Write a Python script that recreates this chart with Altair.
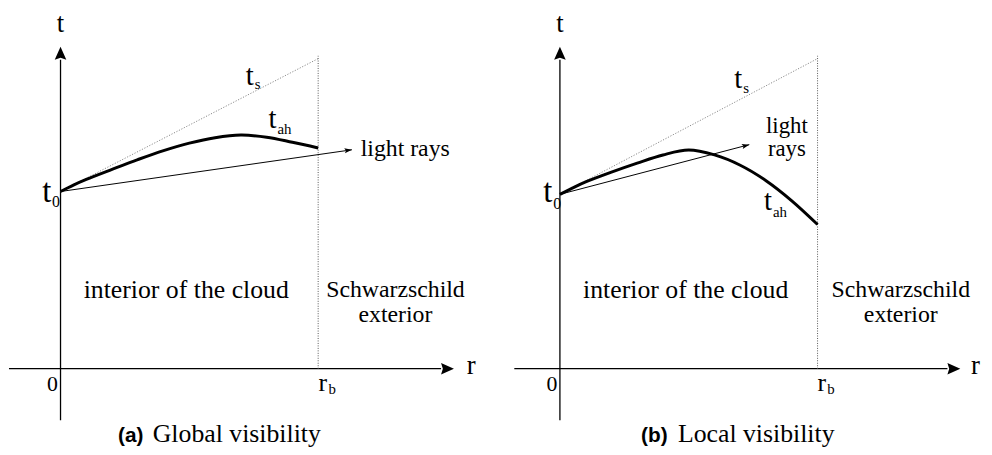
import math
import altair as alt
import pandas as pd

# ---------------- data (units: r_b = 1, same unit on both axes) ----------------
R_DOMAIN = [-0.2, 1.646]
T_DOMAIN = [-0.304, 1.385]
PANEL_W, PANEL_H = 480, 439

# Schwarzschild time t_s (dotted straight line)
ts_r = [0.0, 1.0]
ts_t_a = [0.688, 1.204]
ts_t_b = [0.677, 1.204]

# apparent horizon curve t_ah
tah_r_a = [0.0, 0.05, 0.1, 0.2, 0.3, 0.4, 0.5, 0.6, 0.7, 0.8, 0.9, 1.0]
tah_t_a = [0.688, 0.713, 0.735, 0.774, 0.812, 0.847, 0.876, 0.897, 0.907, 0.899, 0.879, 0.857]
tah_r_b = [0.0, 0.05, 0.1, 0.2, 0.3, 0.4, 0.5, 0.6, 0.7, 0.8, 0.9, 1.0]
tah_t_b = [0.677, 0.702, 0.725, 0.763, 0.798, 0.830, 0.849, 0.830, 0.790, 0.730, 0.652, 0.560]

# light ray (start -> arrow tip)
ray_r_a = [0.0, 1.131]
ray_t_a = [0.688, 0.850]
ray_r_b = [0.0, 0.735]
ray_t_b = [0.677, 0.870]

# boundary of the cloud r = r_b
rb_r = [1.0, 1.0]
rb_t = [0.0, 1.215]

# coordinate axes: [start, arrow tip]
t_axis_t = [-0.2, 1.25]
r_axis_a = [-0.2, 1.527]
r_axis_b = [-0.177, 1.554]
HEAD_AXIS = 0.05     # arrow head length along the axes
SERIF = "Liberation Serif, DejaVu Serif, Times New Roman, Times, serif"
SANS = "Liberation Sans, Arial, Helvetica, sans-serif"

# labels: (r, t, text, size, align, font, weight)
labels_a = [
    (0.0, 1.308, "t", 27, "center", SERIF, "normal"),
    (1.577, -0.019, "r", 27, "left", SERIF, "normal"),
    (-0.031, -0.085, "0", 22, "center", SERIF, "normal"),
    (1.035, -0.085, "r", 26, "right", SERIF, "normal"),
    (1.040, -0.100, "b", 15, "left", SERIF, "normal"),
    (-0.036, 0.646, "t", 33, "right", SERIF, "normal"),
    (-0.033, 0.627, "0", 16, "left", SERIF, "normal"),
    (0.750, 1.100, "t", 29, "right", SERIF, "normal"),
    (0.754, 1.085, "s", 15, "left", SERIF, "normal"),
    (0.838, 0.935, "t", 29, "right", SERIF, "normal"),
    (0.842, 0.912, "ah", 15, "left", SERIF, "normal"),
    (1.165, 0.827, "light rays", 24, "left", SERIF, "normal"),
    (0.488, 0.273, "interior of the cloud", 26, "center", SERIF, "normal"),
    (1.300, 0.277, "Schwarzschild", 24, "center", SERIF, "normal"),
    (1.300, 0.180, "exterior", 24, "center", SERIF, "normal"),
    (0.223, -0.285, "(a)", 21, "left", SANS, "bold"),
    (0.358, -0.285, "Global visibility", 26, "left", SERIF, "normal"),
]
labels_b = [
    (0.0, 1.308, "t", 27, "center", SERIF, "normal"),
    (1.596, -0.019, "r", 27, "left", SERIF, "normal"),
    (-0.031, -0.085, "0", 22, "center", SERIF, "normal"),
    (1.033, -0.085, "r", 26, "right", SERIF, "normal"),
    (1.038, -0.100, "b", 15, "left", SERIF, "normal"),
    (-0.029, 0.646, "t", 33, "right", SERIF, "normal"),
    (-0.026, 0.619, "0", 16, "left", SERIF, "normal"),
    (0.708, 1.088, "t", 29, "right", SERIF, "normal"),
    (0.712, 1.069, "s", 15, "left", SERIF, "normal"),
    (0.823, 0.615, "t", 29, "right", SERIF, "normal"),
    (0.827, 0.588, "ah", 15, "left", SERIF, "normal"),
    (0.881, 0.915, "light", 23, "center", SERIF, "normal"),
    (0.881, 0.827, "rays", 23, "center", SERIF, "normal"),
    (0.488, 0.273, "interior of the cloud", 26, "center", SERIF, "normal"),
    (1.323, 0.277, "Schwarzschild", 24, "center", SERIF, "normal"),
    (1.323, 0.180, "exterior", 24, "center", SERIF, "normal"),
    (0.315, -0.285, "(b)", 21, "left", SANS, "bold"),
    (0.458, -0.285, "Local visibility", 26, "left", SERIF, "normal"),
]

AXIS_HEAD = "M0,0L-0.45,1L0,0.86L0.45,1Z"
RAY_HEAD = "M0,0L-0.34,1L0,0.8L0.34,1Z"

xs = alt.Scale(domain=R_DOMAIN, nice=False, zero=False)
ys = alt.Scale(domain=T_DOMAIN, nice=False, zero=False)


def X(f="r"):
    return alt.X(f + ":Q", scale=xs, axis=None)


def Y(f="t"):
    return alt.Y(f + ":Q", scale=ys, axis=None)


def panel(ts_t, tah_r, tah_t, ray_r, ray_t, r_axis, labels):
    layers = []
    # axes (lines)
    axes_df = pd.DataFrame({
        "r": [0.0, r_axis[0]],
        "t": [t_axis_t[0], 0.0],
        "r2": [0.0, r_axis[1] - HEAD_AXIS],
        "t2": [t_axis_t[1] - HEAD_AXIS, 0.0],
    })
    layers.append(alt.Chart(axes_df).mark_rule(color="black", strokeWidth=1.3).encode(
        x=X(), y=Y(), x2="r2:Q", y2="t2:Q"))
    # axis arrow heads
    heads_df = pd.DataFrame({"r": [0.0, r_axis[1]], "t": [t_axis_t[1], 0.0], "ang": [0, 90]})
    layers.append(alt.Chart(heads_df).mark_point(
        shape=AXIS_HEAD, filled=True, size=676, color="black", opacity=1, strokeWidth=0
    ).encode(x=X(), y=Y(), angle=alt.Angle("ang:Q", scale=None)))
    # r = r_b boundary (dotted)
    rb_df = pd.DataFrame({"r": rb_r, "t": rb_t})
    layers.append(alt.Chart(rb_df).mark_line(color="#555555", strokeWidth=1, strokeDash=[1, 1.5]).encode(
        x=X(), y=Y()))
    # t_s dotted line
    ts_df = pd.DataFrame({"r": ts_r, "t": ts_t})
    layers.append(alt.Chart(ts_df).mark_line(color="#8a8a8a", strokeWidth=1, strokeDash=[1.2, 1.6]).encode(
        x=X(), y=Y()))
    # light ray
    ray_df = pd.DataFrame({"r": ray_r, "t": ray_t})
    layers.append(alt.Chart(ray_df).mark_line(color="black", strokeWidth=1).encode(x=X(), y=Y()))
    ang = 90 - math.degrees(math.atan2(ray_t[1] - ray_t[0], ray_r[1] - ray_r[0]))
    tip_df = pd.DataFrame({"r": [ray_r[1]], "t": [ray_t[1]], "ang": [ang]})
    layers.append(alt.Chart(tip_df).mark_point(
        shape=RAY_HEAD, filled=True, size=225, color="black", opacity=1, strokeWidth=0
    ).encode(x=X(), y=Y(), angle=alt.Angle("ang:Q", scale=None)))
    # apparent horizon t_ah
    tah_df = pd.DataFrame({"r": tah_r, "t": tah_t})
    layers.append(alt.Chart(tah_df).mark_line(color="black", strokeWidth=3, interpolate="catmull-rom").encode(
        x=X(), y=Y()))
    # labels
    lab = pd.DataFrame(labels, columns=["r", "t", "text", "size", "align", "font", "weight"])
    for (align, font, weight), g in lab.groupby(["align", "font", "weight"]):
        layers.append(alt.Chart(g.drop(columns=["align", "font", "weight"])).mark_text(
            align=align, baseline="alphabetic", font=font, fontWeight=weight, color="black"
        ).encode(x=X(), y=Y(), text="text:N", size=alt.Size("size:Q", scale=None)))
    return alt.layer(*layers).properties(width=PANEL_W, height=PANEL_H)


pa = panel(ts_t_a, tah_r_a, tah_t_a, ray_r_a, ray_t_a, r_axis_a, labels_a)
pb = panel(ts_t_b, tah_r_b, tah_t_b, ray_r_b, ray_t_b, r_axis_b, labels_b)

chart = alt.hconcat(pa, pb, spacing=24, bounds="flush").properties(
    padding=0, background="white"
).configure_view(stroke=None)

chart.save("out.html", embed_options={"renderer": "svg", "actions": False})
